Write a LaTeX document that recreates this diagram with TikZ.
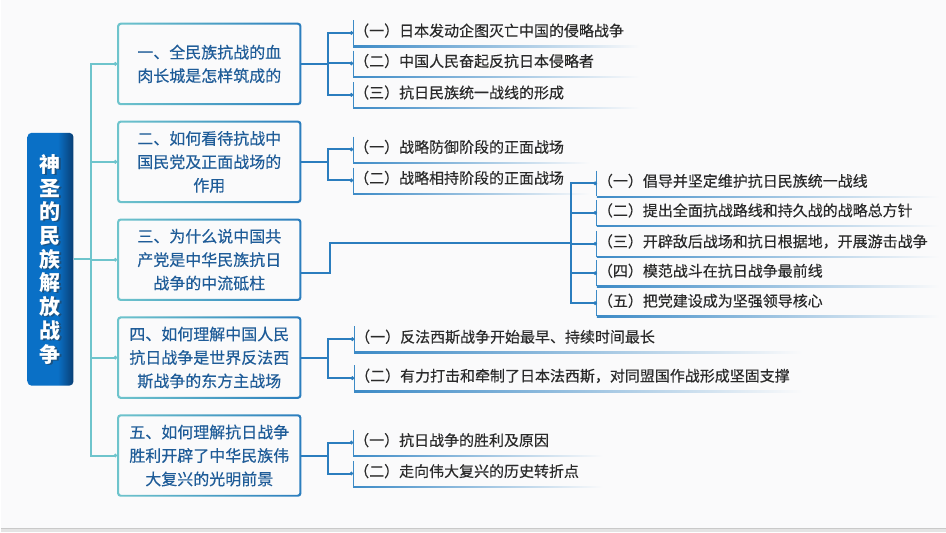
\documentclass[tikz,border=0pt]{standalone}
\usepackage{fontspec}
\setmainfont{Noto Sans CJK SC}
\newfontfamily\cjk{Noto Sans CJK SC}
\newfontfamily\cjkm{Noto Sans CJK SC}[FakeBold=0.35]
\usetikzlibrary{arrows.meta,calc}
\definecolor{bgc}{HTML}{FAFAFB}
\definecolor{stripc}{HTML}{E4E4E4}
\definecolor{stripl}{HTML}{C9C9C9}
\definecolor{tealc}{HTML}{6EC4CC}
\definecolor{bluec}{HTML}{2B7DBE}
\definecolor{boxtext}{HTML}{1F5C98}
\definecolor{leaftext}{HTML}{2A2A2A}
\definecolor{rootA}{HTML}{0A70C6}
\definecolor{rootB}{HTML}{093E74}
\definecolor{linec}{HTML}{3C8AC6}
\definecolor{fadec}{HTML}{A8DCE8}
\definecolor{shadowc}{HTML}{2A3A4A}
\pgfdeclarehorizontalshading{rootsh}{100bp}{color(0bp)=(rootA); color(25bp)=(rootA); color(58bp)=(rootA); color(75bp)=(rootB); color(100bp)=(rootB)}
\tikzset{
  rootbox/.style={shade, shading=rootsh, rounded corners=3pt, minimum width=34.5pt, minimum height=189.75pt, inner sep=0pt},
  roottxt/.style={text=white, font=\cjk\bfseries\fontsize{15.75pt}{17.8pt}\selectfont, align=center, inner sep=0pt},
  branchbox/.style={minimum width=138pt, minimum height=61.5pt, text width=132pt, align=center, text=boxtext, font=\cjkm\fontsize{12pt}{17.6pt}\selectfont, inner sep=0pt},
  ring/.style={even odd rule, left color=tealc, right color=bluec},
  leafnode/.style={anchor=west, minimum height=18.75pt, inner xsep=0.6pt, inner ysep=0pt, text height=10pt, text depth=5pt, text=leaftext, font=\cjkm\fontsize{11.25pt}{13pt}\selectfont},
  leafedge/.style={linec, line width=0.75pt},
  fade/.style={left color=linec, middle color=fadec, right color=bgc},
  tconn/.style={tealc, line width=1.5pt, -{Circle[length=2.6pt]}},
  bconn/.style={bluec, line width=1.5pt, -{Circle[length=2.6pt]}},
  bline/.style={bluec, line width=1.5pt}
}
\newcommand\leafitem[5]{% name, x, y, xend, text
  \node[leafnode] (#1) at (#2,#3) {#5};
  \draw[leafedge] (#1.north west) -- (#1.south west);
  \shade[fade] (#1.south west) rectangle ++({#4-#2},1.3);
}
\newcommand\ringframe[1]{%
  \shade[ring] [rounded corners=2.5pt] (#1.south west) rectangle (#1.north east)
    [rounded corners=1.5pt] ([shift={(1.5pt,1.5pt)}]#1.south west) rectangle ([shift={(-1.5pt,-1.5pt)}]#1.north east);
}
\begin{document}
\begin{tikzpicture}[x=0.75pt,y=-0.75pt]
\fill[bgc] (0,0) rectangle (946,533);
\fill[stripc] (0,529) rectangle (946,533);
\draw[stripl, line width=0.75pt] (0,529.5) -- (946,529.5);
\useasboundingbox (0,0) rectangle (946,533);

% root
\node[rootbox] (root) at (50,259.5) {};
\node[roottxt, text=shadowc, opacity=0.55] (rootshadow) at ([shift={(0.8pt,-0.8pt)}]root.center) {神\\圣\\的\\民\\族\\解\\放\\战\\争};
\node[roottxt] (roottext) at (root.center) {神\\圣\\的\\民\\族\\解\\放\\战\\争};

% branches
\node[branchbox] (b1) at (209,64) {一、全民族抗战的血\\肉长城是怎样筑成的};
\node[branchbox] (b2) at (209,162) {二、如何看待抗战中\\国民党及正面战场的\\作用};
\node[branchbox] (b3) at (209,260) {三、为什么说中国共\\产党是中华民族抗日\\战争的中流砥柱};
\node[branchbox] (b4) at (209,358) {四、如何理解中国人民\\抗日战争是世界反法西\\斯战争的东方主战场};
\node[branchbox] (b5) at (209,456) {五、如何理解抗日战争\\胜利开辟了中华民族伟\\大复兴的光明前景};
\ringframe{b1}\ringframe{b2}\ringframe{b3}\ringframe{b4}\ringframe{b5}

% root connectors
\foreach \b in {b1,b2,b3,b4,b5}{
  \draw[tconn] (root.east) -- ++(17,0) |- (\b.west);
}

% leaves group 1
\leafitem{l11}{353}{33}{640}{（一）日本发动企图灭亡中国的侵略战争}
\leafitem{l12}{353}{63.5}{640}{（二）中国人民奋起反抗日本侵略者}
\leafitem{l13}{353}{95}{640}{（三）抗日民族统一战线的形成}
% group 2
\leafitem{l21}{353}{149.5}{590}{（一）战略防御阶段的正面战场}
\leafitem{l22}{353}{180.5}{590}{（二）战略相持阶段的正面战场}
% group 3
\leafitem{l31}{597}{183.5}{940}{（一）倡导并坚定维护抗日民族统一战线}
\leafitem{l32}{597}{213}{940}{（二）提出全面抗战路线和持久战的战略总方针}
\leafitem{l33}{597}{244}{940}{（三）开辟敌后战场和抗日根据地，开展游击战争}
\leafitem{l34}{597}{273.5}{940}{（四）模范战斗在抗日战争最前线}
\leafitem{l35}{597}{303.5}{940}{（五）把党建设成为坚强领导核心}
% group 4
\leafitem{l41}{354}{339.5}{803}{（一）反法西斯战争开始最早、持续时间最长}
\leafitem{l42}{354}{378.5}{803}{（二）有力打击和牵制了日本法西斯，对同盟国作战形成坚固支撑}
% group 5
\leafitem{l51}{353}{443}{603}{（一）抗日战争的胜利及原因}
\leafitem{l52}{353}{474}{603}{（二）走向伟大复兴的历史转折点}

% branch connectors
\foreach \l in {l11,l12,l13}{\draw[bconn] (b1.east) -- ++(27,0) |- (\l.west);}
\foreach \l in {l21,l22}{\draw[bconn] (b2.east) -- ++(27,0) |- (\l.west);}
\coordinate (j3) at (571,243);
\draw[bline] ([yshift=-9.75pt]b3.east) -- ++(29,0) |- (j3);
\foreach \l in {l31,l32,l33,l34,l35}{\draw[bconn] (j3) |- (\l.west);}
\foreach \l in {l41,l42}{\draw[bconn] (b4.east) -- ++(27,0) |- (\l.west);}
\foreach \l in {l51,l52}{\draw[bconn] (b5.east) -- ++(27,0) |- (\l.west);}
\end{tikzpicture}
\end{document}
